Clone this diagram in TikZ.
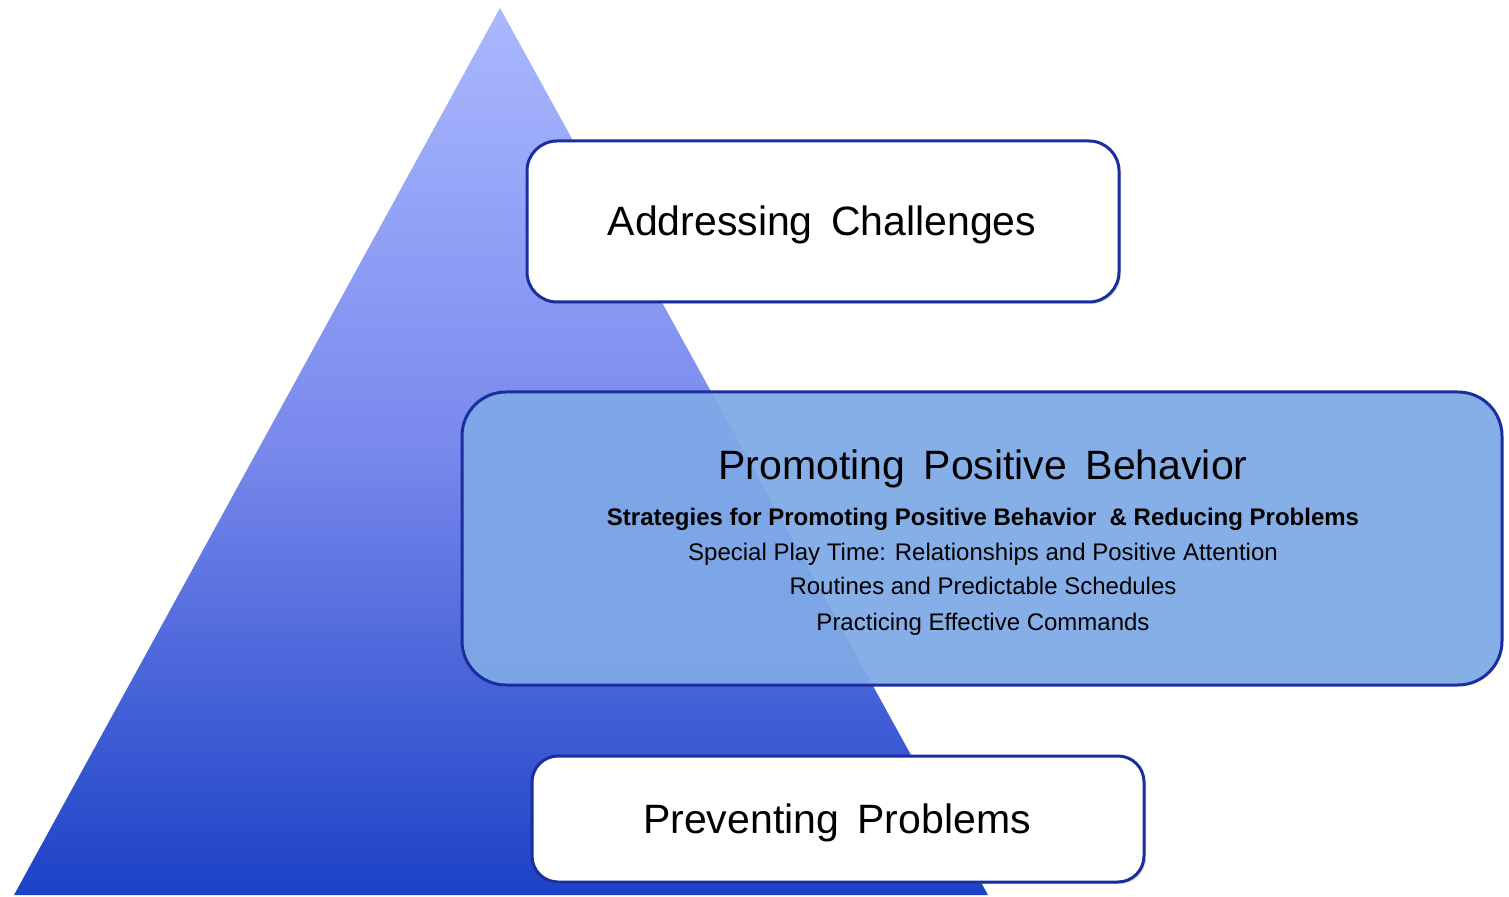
\documentclass[tikz,border=0pt]{standalone}
\usepackage{fontspec}
\setmainfont{Liberation Sans}
\usetikzlibrary{shadows}
\definecolor{edgeblue}{HTML}{1B2E9E}
\definecolor{pyrtop}{HTML}{AAB8FF}
\definecolor{pyrmid}{HTML}{7888EC}
\definecolor{pyrbot}{HTML}{1C42C6}
\definecolor{midfill}{HTML}{7EA9E6}
\newcommand{\wsp}{\hspace{0.45em}}
\begin{document}
\begin{tikzpicture}[x=0.5pt,y=-0.5pt,
  tierbox/.style={draw=edgeblue,line width=1.5pt,fill=white,
    drop shadow={shadow xshift=1pt,shadow yshift=-1pt,opacity=0.25}},
  title/.style={anchor=base,font=\fontsize{20.5}{24}\selectfont},
  detail/.style={anchor=base,font=\fontsize{12}{14}\selectfont}]
\useasboundingbox (0,0) rectangle (1509,897);
% pyramid
\shade[top color=pyrtop,bottom color=pyrbot,middle color=pyrmid]
  (500,8) -- (988,895) -- (14,895) -- cycle;
% top tier
\draw[tierbox,rounded corners=15pt] (527,141) rectangle (1119,302);
\node[title] (top) at (822,236) {Addressing\wsp Challenges};
% middle tier
\draw[draw=edgeblue,line width=1.5pt,fill=midfill,fill opacity=0.94,
  rounded corners=22pt] (462,392) rectangle (1502,685);
\node[title] (mid) at (983,480) {Promoting\wsp Positive\wsp Behavior};
\node[detail,font=\fontsize{12}{14}\selectfont\bfseries] (m1) at (983,525)
  {Strategies for Promoting Positive Behavior \ \& Reducing Problems};
\node[detail] (m2) at (983,560) {Special Play Time: Relationships and Positive Attention};
\node[detail] (m3) at (983,595) {Routines and Predictable Schedules};
\node[detail] (m4) at (983,630) {Practicing Effective Commands};
% bottom tier
\draw[tierbox,rounded corners=13pt] (532,756) rectangle (1144,882);
\node[title] (bot) at (837,833) {Preventing\wsp Problems};
\end{tikzpicture}
\end{document}
